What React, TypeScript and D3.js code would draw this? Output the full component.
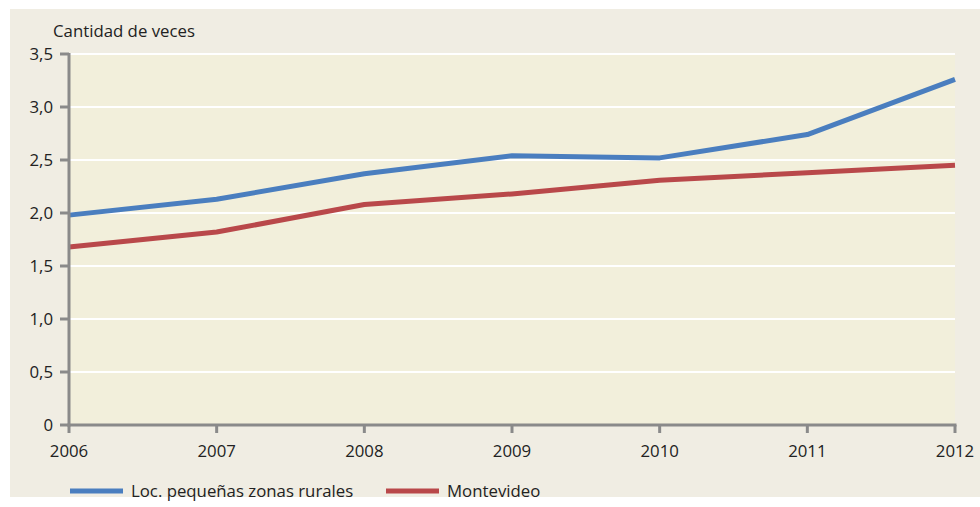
import React from "react";
import * as d3 from "d3";

const years = [2006, 2007, 2008, 2009, 2010, 2011, 2012];
const rural = [1.98, 2.13, 2.37, 2.54, 2.52, 2.74, 3.26];
const montevideo = [1.68, 1.82, 2.08, 2.18, 2.31, 2.38, 2.45];
const yTicks = [0, 0.5, 1, 1.5, 2, 2.5, 3, 3.5];
const seriesNames = ["Loc. pequeñas zonas rurales", "Montevideo"];
const colors = ["#4a7ebf", "#b9484a"];

export default function App() {
  const W = 980, H = 507;
  const left = 69, right = 955, top = 54, bottom = 425;
  const x = d3.scaleLinear().domain([2006, 2012]).range([left, right]);
  const y = d3.scaleLinear().domain([0, 3.5]).range([bottom, top]);
  const line = d3.line<number>().x((_, i) => x(years[i])).y((d) => y(d));
  const font = "'Open Sans', 'DejaVu Sans', sans-serif";
  const fmt = (v: number) => (v === 0 ? "0" : v.toFixed(1).replace(".", ","));
  const series = [rural, montevideo];
  const legendX = [70, 386];
  const fs = 16.8;
  return (
    <svg width={W} height={H} style={{ position: "absolute", left: 0, top: 0 }} fontFamily={font}>
      <rect x={0} y={0} width={W} height={H} fill="#ffffff" />
      <rect x={10} y={9} width={970} height={488} fill="#f0ede3" />
      <rect x={left} y={top} width={right - left} height={bottom - top} fill="#f2efdb" />
      {yTicks.slice(1).map((t) => (
        <line key={t} x1={left} x2={right} y1={y(t)} y2={y(t)} stroke="#ffffff" strokeWidth={2} />
      ))}
      {series.map((s, i) => (
        <path key={i} d={line(s) || ""} fill="none" stroke={colors[i]} strokeWidth={5} strokeLinejoin="round" />
      ))}
      <line x1={left} x2={left} y1={top - 1} y2={bottom + 1.5} stroke="#8a8a8a" strokeWidth={3} />
      <line x1={left - 1.5} x2={right + 1.5} y1={bottom} y2={bottom} stroke="#8a8a8a" strokeWidth={3} />
      {yTicks.map((t) => (
        <g key={t}>
          <line x1={left - 9} x2={left} y1={y(t)} y2={y(t)} stroke="#8a8a8a" strokeWidth={3} />
          <text x={53} y={y(t) + 6} textAnchor="end" fontSize={fs} fill="#222">{fmt(t)}</text>
        </g>
      ))}
      {years.map((yr) => (
        <g key={yr}>
          <line x1={x(yr)} x2={x(yr)} y1={bottom} y2={bottom + 8} stroke="#8a8a8a" strokeWidth={3} />
          <text x={x(yr)} y={457} textAnchor="middle" fontSize={fs} fill="#222">{yr}</text>
        </g>
      ))}
      <text x={53} y={37} fontSize={fs} fill="#222">Cantidad de veces</text>
      {seriesNames.map((n, i) => (
        <g key={n}>
          <line x1={legendX[i]} x2={legendX[i] + 53} y1={491} y2={491} stroke={colors[i]} strokeWidth={5} />
          <text x={legendX[i] + 61} y={497} fontSize={fs} fill="#222">{n}</text>
        </g>
      ))}
    </svg>
  );
}
